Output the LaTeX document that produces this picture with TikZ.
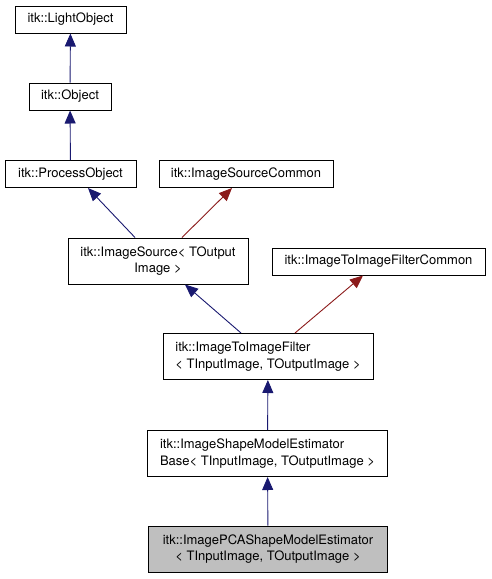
\documentclass[tikz,border=0pt]{standalone}
\usepackage{fontspec}
\setmainfont{TeX Gyre Heros}
\usetikzlibrary{arrows.meta,positioning}
\definecolor{inhblue}{HTML}{191970}
\definecolor{tplred}{HTML}{8B1A1A}

\begin{document}
\begin{tikzpicture}[x=1pt,y=-1pt,
  cls/.style={draw=black,line width=1pt,fill=white,inner sep=0pt,
    font=\fontsize{13}{16.5}\selectfont,minimum height=27pt},
  cls2/.style={cls,minimum height=46pt},
  inh/.style={draw=inhblue,line width=0.9pt,-{Triangle[length=13pt,width=11pt]}},
  tpl/.style={draw=tplred,line width=0.9pt,-{Triangle[length=13pt,width=11pt]}}]
\useasboundingbox (0,0) rectangle (491,579);
% classes
\node[cls,minimum width=111pt] (lobj) at (70.5,19.5) {itk::LightObject};
\node[cls,minimum width=82pt] (obj) at (70,96.5) {itk::Object};
\node[cls,minimum width=131pt] (pobj) at (70.5,174) {itk::ProcessObject};
\node[cls,minimum width=174pt] (isc) at (246,174) {itk::ImageSourceCommon};
\node[cls2,minimum width=180pt,align=center] (isrc) at (158,261) {itk::ImageSource< TOutput\\Image >};
\node[cls,minimum width=213pt] (iifc) at (378.5,261.5) {itk::ImageToImageFilterCommon};
\node[cls2,minimum width=210pt,align=left] (iif) at (268,356.5) {itk::ImageToImageFilter\\< TInputImage, TOutputImage >};
\node[cls2,minimum width=240pt,align=left] (base) at (267.5,453.5) {itk::ImageShapeModelEstimator\\Base< TInputImage, TOutputImage >};
\node[cls2,minimum width=239pt,align=center,fill={rgb,255:red,191;green,191;blue,191}] (pca) at (268,549) {itk::ImagePCAShapeModelEstimator\\< TInputImage, TOutputImage >};
% inheritance
\draw[inh] (obj) -- (lobj);
\draw[inh] (pobj) -- (obj);
\draw[inh] ([xshift=-23pt]isrc.north) -- ([xshift=17.5pt]pobj.south);
\draw[tpl] ([xshift=24pt]isrc.north) -- ([xshift=-14pt]isc.south);
\draw[inh] ([xshift=-27pt]iif.north) -- ([xshift=27pt]isrc.south);
\draw[tpl] ([xshift=27pt]iif.north) -- ([xshift=-15.5pt]iifc.south);
\draw[inh] (base) -- (iif);
\draw[inh] (pca) -- (base);
\end{tikzpicture}
\end{document}
